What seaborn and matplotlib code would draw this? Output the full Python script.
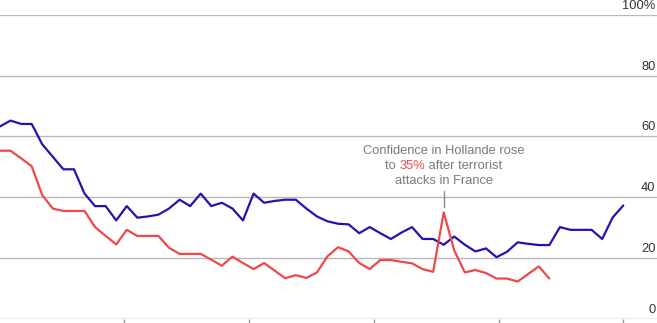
import matplotlib
matplotlib.use("Agg")
import matplotlib.pyplot as plt
import matplotlib.transforms as mtransforms
import seaborn as sns
import numpy as np
import pandas as pd

# ---- data ----
blue_values = [63.3, 65.2, 64.1, 64.1, 57.4, 53.3, 49.2, 49.2, 41.2, 37.1,
               37.1, 32.4, 37.1, 33.3, 33.7, 34.3, 36.3, 39.2, 37.1, 41.2,
               37.1, 38.2, 36.3, 32.4, 41.2, 38.2, 38.8, 39.2, 39.2, 36.3,
               33.7, 32.1, 31.3, 31.1, 28.2, 30.2, 28.2, 26.3, 28.4, 30.2,
               26.3, 26.3, 24.4, 27.1, 24.4, 22.2, 23.2, 20.3, 22.1, 25.2,
               24.7, 24.3, 24.3, 30.2, 29.3, 29.3, 29.3, 26.3, 33.4, 37.3]
red_values = [55.3, 55.3, 52.8, 50.2, 40.7, 36.3, 35.5, 35.5, 35.5, 30.2,
              27.3, 24.5, 29.3, 27.3, 27.3, 27.3, 23.4, 21.4, 21.4, 21.4,
              19.5, 17.5, 20.5, 18.4, 16.4, 18.4, 15.9, 13.4, 14.4, 13.5,
              15.3, 20.6, 23.6, 22.2, 18.4, 16.4, 19.4, 19.4, 18.8, 18.3,
              16.4, 15.5, 35.0, 22.5, 15.3, 16.1, 15.1, 13.3, 13.3, 12.3,
              14.8, 17.3, 13.3]
ytick_values = [0, 20, 40, 60, 80, 100]
ytick_labels = ["0", "20", "40", "60", "80", "100%"]
annotation_lines = ["Confidence in Hollande rose", "to ", "35%", " after terrorist", "attacks in France"]
peak_index = 42

BLUE = "#2612b0"
RED = "#f0474b"

df = pd.concat([
    pd.DataFrame({"t": np.arange(len(blue_values)), "v": blue_values, "s": "blue"}),
    pd.DataFrame({"t": np.arange(len(red_values)), "v": red_values, "s": "red"}),
])

sns.set_style("white")
plt.rcParams["font.family"] = ["Liberation Sans", "DejaVu Sans"]

fig = plt.figure(figsize=(6.57, 3.23), dpi=100)
ax = fig.add_axes([0, 4.0 / 323, 1, (319.0 - 14.7) / 323])

sns.lineplot(data=df, x="t", y="v", hue="s", palette={"blue": BLUE, "red": RED},
             linewidth=1.6, legend=False, ax=ax, estimator=None, sort=False)

px_per_pt = 623.3 / (len(blue_values) - 1)
ax.set_xlim(0, 657 / px_per_pt)
ax.set_ylim(0, 100)

# grid lines
for v in ytick_values[1:]:
    ax.axhline(v, color="#b8b8b8", linewidth=1.0, zorder=0)
ax.axhline(0, color="#9a9a9a", linewidth=1.0, zorder=0)

for s in ax.spines.values():
    s.set_visible(False)
ax.set_yticks([])
ax.set_xlabel("")
ax.set_ylabel("")

# bottom ticks (yearly)
tick_step = 124.75 / px_per_pt
xt = [len(blue_values) - 1 - tick_step * k for k in range(5)][::-1]
ax.set_xticks(xt)
ax.set_xticklabels([])
ax.tick_params(axis="x", direction="out", length=5, width=1, color="#9a9a9a", bottom=True, pad=0)

# y labels above gridlines at right
trans = mtransforms.blended_transform_factory(ax.transAxes, ax.transData)
for v, lab in zip(ytick_values, ytick_labels):
    ax.text(0.998, v + 1.0, lab, transform=trans, ha="right", va="bottom",
            fontsize=9.3, color="#333333")

# annotation
xp = peak_index
gray = "#7a7a7a"
ax.plot([xp, xp], [36.9, 42.0], color="#8a8a8a", linewidth=1.0)
fs = 9.3
ax.text(xp, 55.1, annotation_lines[0], ha="center", va="center", fontsize=fs, color=gray)
ax.text(xp, 45.2, annotation_lines[4], ha="center", va="center", fontsize=fs, color=gray)
# middle line with red "35%"
t1 = ax.text(0, 0, annotation_lines[1], fontsize=fs, color=gray)
t2 = ax.text(0, 0, annotation_lines[2], fontsize=fs, color=RED)
t3 = ax.text(0, 0, annotation_lines[3], fontsize=fs, color=gray)
fig.canvas.draw()
r = fig.canvas.get_renderer()
w1 = t1.get_window_extent(r).width
w2 = t2.get_window_extent(r).width
w3 = t3.get_window_extent(r).width
total = w1 + w2 + w3
cx, cy = ax.transData.transform((xp, 50.2))
x0 = cx - total / 2
inv = ax.transData.inverted()
for t, off in ((t1, 0), (t2, w1), (t3, w1 + w2)):
    t.set_position(inv.transform((x0 + off, cy)))
    t.set_va("center")
    t.set_ha("left")

fig.savefig("out.png", dpi=100)
